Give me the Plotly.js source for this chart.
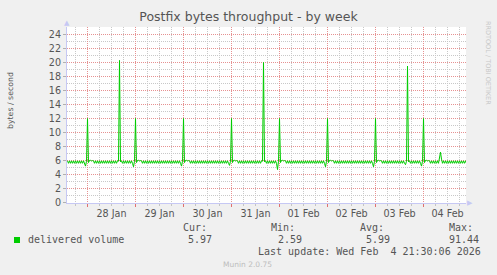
<!DOCTYPE html>
<html><head><meta charset="utf-8">
<script src="https://cdn.plot.ly/plotly-3.0.1.min.js"></script>
<style>html,body{margin:0;padding:0;background:#f0f0f0;}#chart{width:497px;height:275px;}</style>
</head><body><div id="chart"></div>
<script>
// ---- data ----
const seriesStart = '2026-01-27T14:00:00Z';
const stepMinutes = 30;
const deliveredVolume = [
5.95,5.6,5.95,5.6,5.95,5.6,5.95,5.6,5.95,5.6,5.95,5.6,5.95,5.6,5.95,5.6,5.95,5.6,5.2,5.9,
12,5.7,6,6.05,5.9,6,5.95,5.6,5.95,5.6,5.95,5.6,5.95,5.6,5.95,5.6,5.95,5.6,5.95,5.6,
5.95,5.6,5.95,5.6,5.95,5.6,5.95,5.6,5.95,5.6,5.95,5.9,20.3,5.8,5.95,5.6,5.95,5.6,5.95,5.6,
5.95,5.6,5.95,5.6,5.95,5.6,5.1,5.9,12,5.7,6,6.05,5.9,6,5.95,5.6,5.95,5.6,5.95,5.6,
5.95,5.6,5.95,5.6,5.95,5.6,5.95,5.6,5.95,5.6,5.95,5.6,5.95,5.6,5.95,5.6,5.95,5.6,5.95,5.6,
5.95,5.6,5.95,5.6,5.95,5.6,5.95,5.6,5.95,5.6,5.95,5.6,5.95,5.6,5.2,5.9,12,5.7,6,6.05,
5.9,6,5.95,5.6,5.95,5.6,5.95,5.6,5.95,5.6,5.95,5.6,5.95,5.6,5.95,5.6,5.95,5.6,5.95,5.6,
5.95,5.6,5.95,5.6,5.95,5.6,5.95,5.6,5.95,5.6,5.95,5.6,5.95,5.6,5.95,5.6,5.95,5.6,5.95,5.6,
5.95,5.6,5.3,5.9,12,5.7,6,6.05,5.9,6,5.95,5.6,5.95,5.6,5.95,5.6,5.95,5.6,5.95,5.6,
5.95,5.6,5.95,5.6,5.95,5.6,5.95,5.6,5.95,5.6,5.95,5.6,5.95,5.6,5.95,5.9,20,5.8,5.95,5.6,
5.95,5.6,5.95,5.6,5.95,5.6,5.95,5.6,5.95,5.6,4.7,5.9,12,5.7,6,6.05,5.9,6,5.95,5.6,
5.95,5.6,5.95,5.6,5.95,5.6,5.95,5.6,5.95,5.6,5.95,5.6,5.95,5.6,5.95,5.6,5.95,5.6,5.95,5.6,
5.95,5.6,5.95,5.6,5.95,5.6,5.95,5.6,5.95,5.6,5.95,5.6,5.95,5.6,5.95,5.6,5.95,5.6,5.1,5.9,
12,5.7,6,6.05,5.9,6,5.95,5.6,5.95,5.6,5.95,5.6,5.95,5.6,5.95,5.6,5.95,5.6,5.95,5.6,
5.95,5.6,5.95,5.6,5.95,5.6,5.95,5.6,5.95,5.6,5.95,5.6,5.95,5.6,5.95,5.6,5.95,5.6,5.95,5.6,
5.95,5.6,5.95,5.6,5.95,5.6,5.1,5.9,12,5.7,6,6.05,5.9,6,5.95,5.6,5.95,5.6,5.95,5.6,
5.95,5.6,5.95,5.6,5.95,5.6,5.95,5.6,5.95,5.6,5.95,5.6,5.95,5.6,5.95,5.6,5.95,5.6,5.4,5.9,
19.5,5.8,5.95,5.6,5.95,5.6,5.95,5.6,5.95,5.6,5.95,5.6,5.95,5.6,5.2,5.9,12,5.7,6,6.05,
5.9,6,5.95,5.6,5.95,5.6,5.95,5.6,5.95,5.6,5.95,5.6,6.2,7.2,6.2,5.6,5.95,5.6,5.95,5.6,
5.95,5.6,5.95,5.6,5.95,5.6,5.95,5.6,5.95,5.6,5.95,5.6,5.95,5.6,5.95,5.6,5.95,5.6,5.95,5.6
];
const xRange = ['2026-01-27 13:45', '2026-02-04 21:15'];
const dayDates = ['2026-01-28','2026-01-29','2026-01-30','2026-01-31','2026-02-01','2026-02-02','2026-02-03','2026-02-04'];
const dayLabels = ['28 Jan','29 Jan','30 Jan','31 Jan','01 Feb','02 Feb','03 Feb','04 Feb'];
const yMajorTicks = [0,2,4,6,8,10,12,14,16,18,20,22,24];
const yMinorTicks = [1,3,5,7,9,11,13,15,17,19,21,23,25];
const yRange = [-0.0714, 25.0714];
const seriesName = 'delivered volume';
const statLabels = ['Cur:','Min:','Avg:','Max:'];
const statValues = ['5.97','2.59','5.99','91.44'];
const lastUpdate = 'Last update: Wed Feb  4 21:30:06 2026';

// ---- build ----
const t0 = Date.parse(seriesStart);
const fmt = ms => new Date(ms).toISOString().slice(0, 19).replace('T', ' ');
const times = deliveredVolume.map((_, i) => fmt(t0 + i * stepMinutes * 60000));
const midnightTicks = dayDates.map(d => d + ' 00:00');
const dayLabelTicks = dayDates.map(d => d + ' 12:00');
// 6-hourly minor grid positions (excluding midnights)
const xMinorTicks = ['2026-01-27 18:00'];
dayDates.forEach(d => ['06:00', '12:00', '18:00'].forEach(h => xMinorTicks.push(d + ' ' + h)));

const L = 67, R = 466, T = 27, B = 203, W = 497, H = 275;
const px = x => (x - L) / (R - L);
const py = y => (B - y) / (B - T);

const GRID_MAJOR = 'rgb(230,145,145)', GRID_MINOR = 'rgb(200,200,200)', AXIS = '#c6c8f4';
const DASH = '1px,1px';
const mono = 'DejaVu Sans Mono', sans = 'DejaVu Sans';

const dummy = (xa, ya) => ({x: xRange, y: [-5, -5], xaxis: xa, yaxis: ya, type: 'scatter', mode: 'lines', line: {width: 0}, showlegend: false, hoverinfo: 'skip'});
const trace = {
  x: times, y: deliveredVolume, type: 'scatter', mode: 'lines',
  line: {color: '#00cc00', width: 1}, name: seriesName, hoverinfo: 'skip'
};

const ann = [];
const statX = [181, 269, 358, 447];
const valX = [186, 276, 364, 447];
const txt = (text, x, y, font, extra) => Object.assign({text, x: px(x), y: py(y), xref: 'paper', yref: 'paper', xanchor: 'left', yanchor: 'middle', showarrow: false, font}, extra || {});
const monoFont = {family: mono, size: 10, color: '#555'};
statLabels.forEach((s, k) => ann.push(txt(s, statX[k], 227.5, monoFont)));
statValues.forEach((s, k) => ann.push(txt(s, valX[k], 239.5, monoFont)));
ann.push(txt(seriesName, 26, 239.5, monoFont));
ann.push(txt(lastUpdate, 483, 251.7, monoFont, {xanchor: 'right'}));
ann.push(txt('Munin 2.0.75', 247.5, 264, {family: sans, size: 7.5, color: '#bdbdbd'}, {xanchor: 'center'}));
ann.push(txt('bytes / second', 10, 101, {family: sans, size: 7.8, color: '#555'}, {xanchor: 'center', textangle: -90}));
ann.push(txt('RRDTOOL / TOBI OETIKER', 488, 63, {family: sans, size: 6.5, color: '#c8c8c8'}, {xanchor: 'center', textangle: 90}));
ann.push(txt('▲', 67, 23, {family: sans, size: 7, color: AXIS}, {xanchor: 'center'}));
ann.push(txt('▶', 470, 203, {family: sans, size: 7, color: AXIS}, {xanchor: 'center'}));

const blank = arr => arr.map(() => ' ');
const common = {fixedrange: true, zeroline: false};
const layout = {
  width: W, height: H,
  margin: {l: L, r: W - R, t: T, b: H - B, pad: 0},
  paper_bgcolor: '#f0f0f0', plot_bgcolor: '#ffffff',
  showlegend: false,
  font: {family: sans, size: 10, color: '#555'},
  title: {text: 'Postfix bytes throughput - by week', font: {family: sans, size: 12.5, color: '#555'}, x: 0.5, xref: 'container', xanchor: 'center', y: 1 - 16.5 / H, yref: 'container', yanchor: 'middle'},
  xaxis: Object.assign({
    type: 'date', range: xRange, tickmode: 'array', tickvals: xMinorTicks, ticktext: blank(xMinorTicks),
    showgrid: true, gridcolor: GRID_MINOR, griddash: DASH, gridwidth: 1,
    ticks: 'outside', ticklen: 2, tickcolor: '#c4c4c4',
    showline: true, linecolor: AXIS, linewidth: 1
  }, common),
  xaxis2: Object.assign({
    type: 'date', overlaying: 'x', anchor: 'y', side: 'bottom', range: xRange,
    tickmode: 'array', tickvals: midnightTicks, ticktext: blank(midnightTicks),
    showgrid: true, gridcolor: GRID_MAJOR, griddash: DASH, gridwidth: 1,
    ticks: 'outside', ticklen: 3, tickcolor: '#e07070', showline: false
  }, common),
  xaxis3: Object.assign({
    type: 'date', overlaying: 'x', anchor: 'y', side: 'bottom', range: xRange,
    tickmode: 'array', tickvals: dayLabelTicks, ticktext: dayLabels,
    showgrid: false, ticks: '', showline: false,
    tickfont: {family: sans, size: 9.6, color: '#555'}, ticklabelstandoff: 3
  }, common),
  yaxis: Object.assign({
    range: yRange, tickmode: 'array', tickvals: yMinorTicks, ticktext: blank(yMinorTicks),
    showgrid: true, gridcolor: GRID_MINOR, griddash: DASH, gridwidth: 1,
    ticks: '', showline: true, linecolor: AXIS
  }, common),
  yaxis2: Object.assign({
    overlaying: 'y', anchor: 'x', side: 'left', range: yRange, tickmode: 'array', tickvals: yMajorTicks,
    showgrid: true, gridcolor: GRID_MAJOR, griddash: DASH, gridwidth: 1,
    ticks: 'outside', ticklen: 3, tickcolor: '#b0b0b0', showline: false,
    tickfont: {family: sans, size: 9.6, color: '#555'}
  }, common),
  annotations: ann,
  shapes: [{type: 'rect', xref: 'paper', yref: 'paper', x0: px(14), x1: px(20), y0: py(243), y1: py(237), fillcolor: '#00cc00', line: {width: 0}}]
};

Plotly.newPlot('chart', [dummy('x2', 'y'), dummy('x3', 'y'), dummy('x', 'y2'), trace], layout, {staticPlot: true, displayModeBar: false});
</script></body></html>
